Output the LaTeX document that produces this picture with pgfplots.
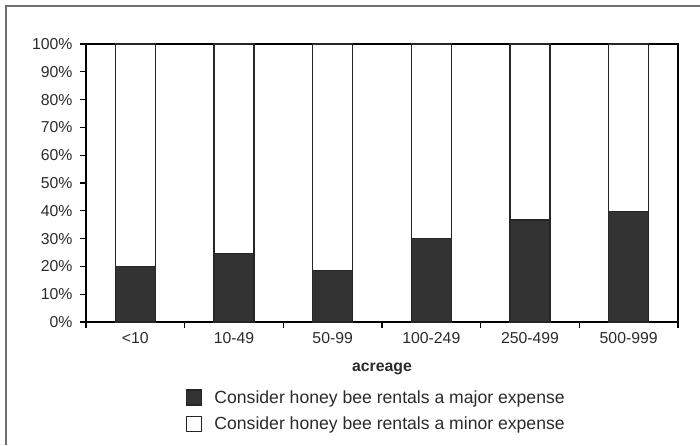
\documentclass[border=0pt]{standalone}
\usepackage{pgfplots}
\pgfplotsset{compat=1.18}
\usepackage{fontspec}
\setmainfont{Liberation Sans}
\definecolor{majorfill}{HTML}{333333}
\definecolor{txt}{HTML}{2A2A2A}
\definecolor{framegray}{HTML}{707070}

\pgfplotstableread{
x major minor
0 20.0 80.0
1 24.5 75.5
2 18.6 81.4
3 30.0 70.0
4 36.7 63.3
5 39.7 60.3
}\expense

\begin{document}
\begin{tikzpicture}
\path[use as bounding box] (0pt,0pt) rectangle (700pt,445pt);
% page frame (left and top edges)
\draw[framegray,line width=2pt] (6pt,0pt) -- (6pt,439pt) -- (700pt,439pt);
\begin{axis}[
  at={(86pt,123pt)}, anchor=south west,
  scale only axis, width=592pt, height=278pt,
  ybar stacked, bar width=40pt,
  xmin=-0.5, xmax=5.5, ymin=0, ymax=100,
  xtick={0,...,5},
  xticklabels={<10,10-49,50-99,100-249,250-499,500-999},
  minor xtick={-0.5,0.5,...,5.5},
  major x tick style={draw=none},
  ytick={0,10,...,100},
  yticklabel={\pgfmathprintnumber{\tick}\%},
  /pgf/number format/assume math mode=true,
  tick align=outside, xtick pos=bottom, ytick pos=left,
  major tick length=6pt, minor tick length=6pt,
  tick style={black, line width=1.3pt},
  axis line style={black, line width=1.4pt},
  ticklabel style={font=\fontsize{15.8}{18}\selectfont, text=txt},
  x tick label style={yshift=-1pt},
  y tick label style={xshift=-4pt},
  xlabel={\textbf{acreage}},
  xlabel style={font=\fontsize{15.8}{18}\selectfont, text=txt, yshift=-12pt},
  legend style={draw=none, fill=none, at={(0.169,-0.238)}, anchor=north west,
    font=\fontsize{17.6}{20}\selectfont, text=txt,
    row sep=8pt, inner sep=0pt,
    /tikz/every odd column/.append style={column sep=10pt}},
  legend cell align=left,
  legend image code/.code={\draw[#1, line width=1.2pt] (0pt,-7.5pt) rectangle (15pt,7.5pt);},
  clip=false,
]
\addplot[fill=majorfill, draw=black!85, line width=1.2pt] table[x=x,y=major]{\expense};
\addplot[fill=white, draw=black!85, line width=1.2pt] table[x=x,y=minor]{\expense};
\legend{Consider honey bee rentals a major expense,Consider honey bee rentals a minor expense}
\end{axis}
\end{tikzpicture}
\end{document}
